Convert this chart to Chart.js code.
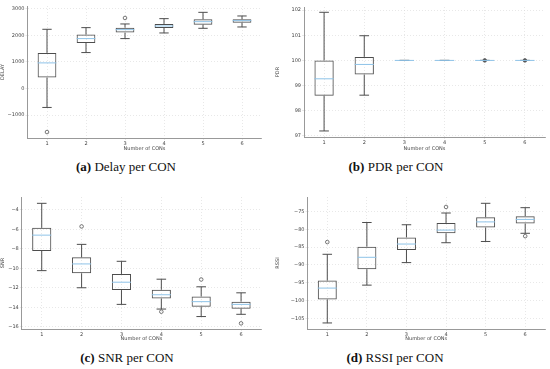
<!DOCTYPE html>
<html>
<head>
<meta charset="utf-8">
<script src="https://cdn.jsdelivr.net/npm/chart.js@4.4.1/dist/chart.umd.min.js"></script>
<style>
  body { margin: 0; width: 550px; height: 369px; background: #fff; position: relative; overflow: hidden; }
  canvas { position: absolute; }
  .cap { position: absolute; font-family: 'Liberation Serif', serif; font-size: 13px; color: #111; transform: translate(-50%, -50%); white-space: nowrap; }
</style>
</head>
<body>
<canvas id="cA"></canvas>
<canvas id="cB"></canvas>
<canvas id="cC"></canvas>
<canvas id="cD"></canvas>
<div class="cap" style="left:126px; top:167px"><b>(a)</b> Delay per CON</div>
<div class="cap" style="left:396px; top:167px"><b>(b)</b> PDR per CON</div>
<div class="cap" style="left:127px; top:358px"><b>(c)</b> SNR per CON</div>
<div class="cap" style="left:395px; top:358px"><b>(d)</b> RSSI per CON</div>
<script>
// categorias (numero de CONs)
const cons = ['1', '2', '3', '4', '5', '6']

// Delay
const delayMin = [-712, 1350, 1875, 2087, 2262, 2312]
const delayQ1  = [412, 1712, 2100, 2275, 2400, 2475]
const delayMed = [962, 1875, 2212, 2350, 2512, 2550]
const delayQ3  = [1337, 2025, 2287, 2425, 2600, 2600]
const delayMax = [2225, 2287, 2425, 2625, 2862, 2725]
const delayOut = [-1637, null, 2650, null, null, null]
const delayTicks = [-1000, 0, 1000, 2000, 3000]

// PDR
const pdrMin = [97.2, 98.62, 100, 100, 100, 100]
const pdrQ1  = [98.6, 99.44, 100, 100, 100, 100]
const pdrMed = [99.27, 99.84, 100, 100, 100, 100]
const pdrQ3  = [100, 100.14, 100, 100, 100, 100]
const pdrMax = [101.91, 100.98, 100, 100, 100, 100]
const pdrOut = [null, null, null, null, 100, 100]
const pdrTicks = [97, 98, 99, 100, 101, 102]

// SNR
const snrMin = [-10.24, -12.0, -13.71, -14.19, -14.96, -14.73]
const snrQ1  = [-8.22, -10.51, -12.24, -13.1, -13.94, -14.15]
const snrMed = [-6.59, -9.55, -11.43, -12.72, -13.43, -13.71]
const snrQ3  = [-5.84, -8.87, -10.58, -12.21, -12.89, -13.43]
const snrMax = [-3.32, -7.54, -9.28, -11.12, -11.9, -12.52]
const snrOut = [null, -5.7, null, -14.46, -11.15, -15.66]
const snrTicks = [-16, -14, -12, -10, -8, -6, -4]

// RSSI
const rssiMin = [-106.3, -95.67, -89.34, -83.75, -83.4, -81.1]
const rssiQ1  = [-99.7, -91.2, -85.8, -81.1, -79.5, -78.35]
const rssiMed = [-96.5, -87.85, -84.12, -80.2, -77.9, -77.2]
const rssiQ3  = [-94.4, -84.87, -82.26, -78.2, -76.6, -76.3]
const rssiMax = [-87.0, -78.07, -78.7, -75.4, -72.67, -73.9]
const rssiOut = [-83.57, null, null, -73.7, null, -81.9]
const rssiTicks = [-105, -100, -95, -90, -85, -80, -75]

const boxColor = '#4d4d4d'
const medColor = '#8ec3e8'
const gridColor = '#d9d9d9'
const tickFont = { family: 'DejaVu Sans', size: 5 }

// desenha bigodes, caps e mediana usando as escalas do grafico
const boxPlugin = {
  id: 'boxPlugin',
  afterDatasetsDraw(chart) {
    const st = chart.options.plugins.boxPlugin
    const meta = chart.getDatasetMeta(0)
    const y = chart.scales.y
    const ctx = chart.ctx
    ctx.save()
    meta.data.forEach((bar, i) => {
      const x = bar.x, w = bar.width
      const yMin = y.getPixelForValue(st.min[i])
      const yMax = y.getPixelForValue(st.max[i])
      const yQ1 = y.getPixelForValue(st.q1[i])
      const yQ3 = y.getPixelForValue(st.q3[i])
      const yMed = y.getPixelForValue(st.med[i])
      ctx.strokeStyle = boxColor
      ctx.lineWidth = 1
      ctx.beginPath()
      ctx.moveTo(x, yQ3); ctx.lineTo(x, yMax)
      ctx.moveTo(x, yQ1); ctx.lineTo(x, yMin)
      ctx.moveTo(x - w / 4, yMax); ctx.lineTo(x + w / 4, yMax)
      ctx.moveTo(x - w / 4, yMin); ctx.lineTo(x + w / 4, yMin)
      ctx.stroke()
      ctx.strokeStyle = medColor
      ctx.beginPath()
      ctx.moveTo(x - w / 2, yMed); ctx.lineTo(x + w / 2, yMed)
      ctx.stroke()
    })
    ctx.restore()
  }
}

function makePanel(id, pos, area, yLabel, yScale, st, outliers, filledOut) {
  const canvas = document.getElementById(id)
  canvas.style.left = pos.left + 'px'
  canvas.style.top = pos.top + 'px'
  canvas.style.width = pos.w + 'px'
  canvas.style.height = pos.h + 'px'
  canvas.width = pos.w
  canvas.height = pos.h

  new Chart(canvas, {
    data: {
      labels: cons,
      datasets: [{
        type: 'bar',
        data: st.q1.map((v, i) => [v, st.q3[i]]),
        backgroundColor: 'rgba(255,255,255,0)',
        borderColor: boxColor,
        borderWidth: 1,
        borderSkipped: false,
        barPercentage: 0.48,
        categoryPercentage: 1
      }, {
        type: 'line',
        data: outliers,
        showLine: false,
        pointRadius: 1.8,
        pointBorderWidth: 0.8,
        pointBorderColor: '#555',
        pointBackgroundColor: filledOut ? '#555' : 'rgba(255,255,255,0)'
      }]
    },
    options: {
      responsive: false,
      animation: false,
      layout: { padding: { left: 0, top: area.top, right: pos.w - area.right, bottom: 0 } },
      plugins: {
        legend: { display: false },
        tooltip: { enabled: false },
        boxPlugin: st
      },
      scales: {
        x: {
          offset: true,
          grid: { offset: false, color: gridColor, tickLength: 2, lineWidth: 0.6 },
          border: { color: '#999', width: 1, dash: [1, 2] },
          ticks: { font: tickFont, color: '#444', padding: 1, maxRotation: 0 },
          title: { display: true, text: 'Number of CONs', font: tickFont, color: '#444', padding: { top: 1, bottom: 0 } },
          afterFit: s => { s.height = pos.h - area.bottom }
        },
        y: {
          min: yScale.min,
          max: yScale.max,
          grid: { color: gridColor, tickLength: 2, lineWidth: 0.6 },
          border: { color: '#999', width: 1, dash: [1, 2] },
          ticks: {
            font: tickFont, color: '#444', padding: 1,
            callback: v => String(v).replace('-', '\u2212')
          },
          afterBuildTicks: s => { s.ticks = yScale.ticks.map(v => ({ value: v })) },
          title: { display: true, text: yLabel, font: tickFont, color: '#444', padding: 0 },
          afterFit: s => { s.width = area.left }
        }
      }
    },
    plugins: [boxPlugin]
  })
}

makePanel('cA', { left: 0, top: 0, w: 275, h: 152 }, { left: 27.5, right: 261.5, top: 6, bottom: 138 },
  'DELAY', { min: -1860, max: 3100, ticks: delayTicks },
  { min: delayMin, q1: delayQ1, med: delayMed, q3: delayQ3, max: delayMax }, delayOut, false)

makePanel('cB', { left: 275, top: 0, w: 275, h: 152 }, { left: 29, right: 270, top: 7, bottom: 137 },
  'PDR', { min: 96.96, max: 102.12, ticks: pdrTicks },
  { min: pdrMin, q1: pdrQ1, med: pdrMed, q3: pdrQ3, max: pdrMax }, pdrOut, true)

makePanel('cC', { left: 0, top: 180, w: 275, h: 162 }, { left: 21.8, right: 261, top: 17, bottom: 149 },
  'SNR', { min: -16.24, max: -2.67, ticks: snrTicks },
  { min: snrMin, q1: snrQ1, med: snrMed, q3: snrQ3, max: snrMax }, snrOut, false)

makePanel('cD', { left: 275, top: 180, w: 275, h: 162 }, { left: 32.5, right: 270, top: 17, bottom: 149 },
  'RSSI', { min: -108, max: -70.9, ticks: rssiTicks },
  { min: rssiMin, q1: rssiQ1, med: rssiMed, q3: rssiQ3, max: rssiMax }, rssiOut, false)
</script>
</body>
</html>
